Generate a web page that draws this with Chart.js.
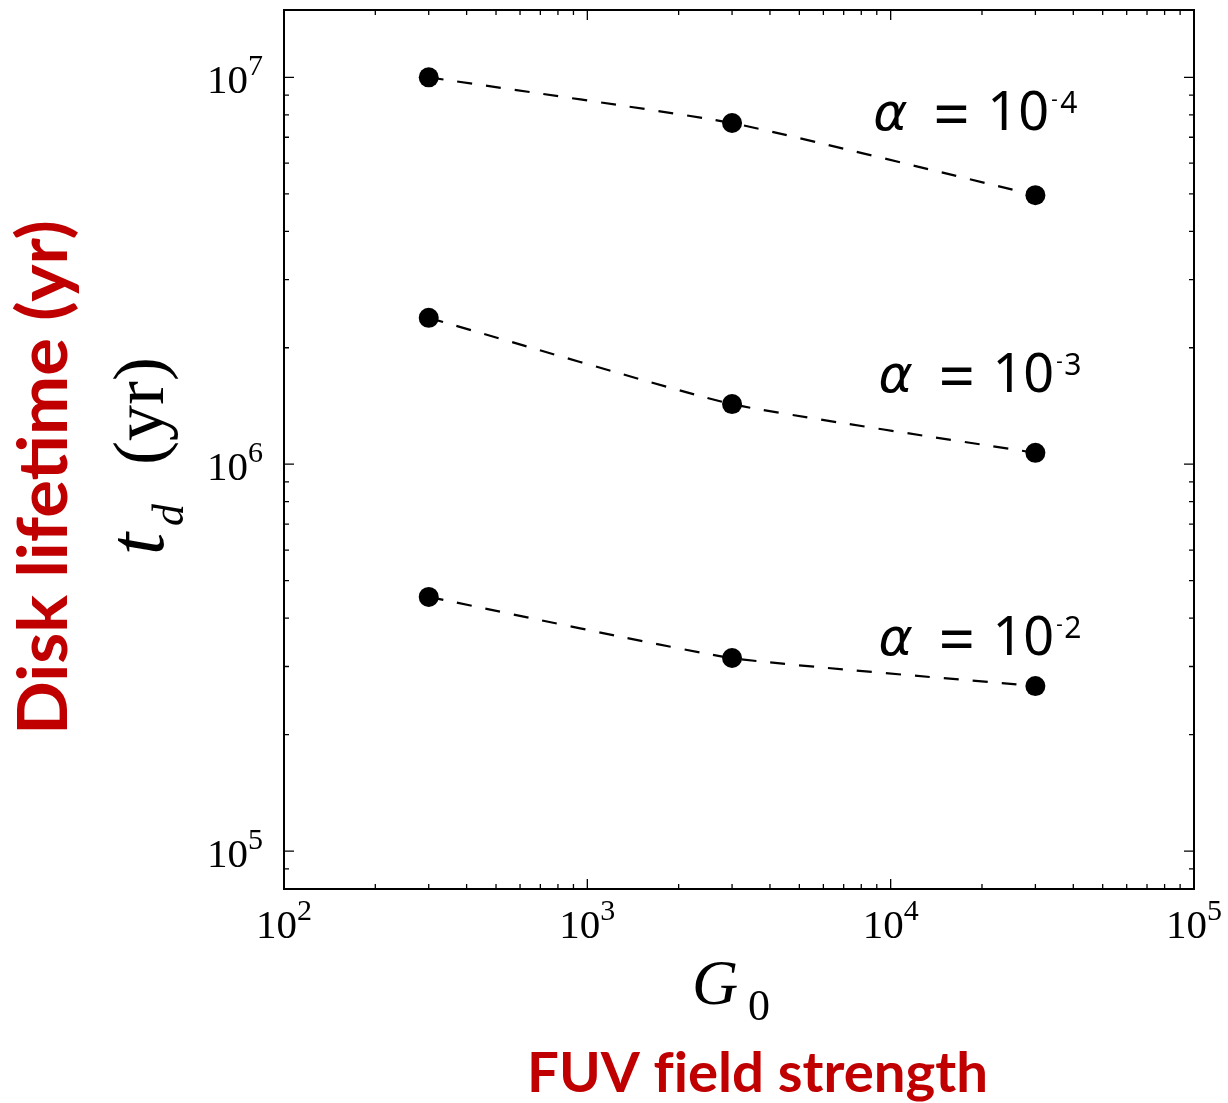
<!DOCTYPE html>
<html>
<head>
<meta charset="utf-8">
<script src="https://cdn.jsdelivr.net/npm/chart.js@4.4.1/dist/chart.umd.min.js"></script>
<style>
  html, body { margin: 0; padding: 0; background: #ffffff; }
  #wrap { width: 1228px; height: 1103px; }
</style>
</head>
<body>
<div id="wrap"><canvas id="c" width="1228" height="1103"></canvas></div>
<script>
// ---- data ----
const G0 = [300, 3000, 30000];
const tdAlpha4 = [1.0e7, 7.62e6, 4.96e6];     // alpha = 1e-4
const tdAlpha3 = [2.39e6, 1.43e6, 1.07e6];    // alpha = 1e-3
const tdAlpha2 = [4.54e5, 3.155e5, 2.67e5];   // alpha = 1e-2
const seriesExp = ["-4", "-3", "-2"];
const xTickExp = [2, 3, 4, 5];
const yTickExp = [5, 6, 7];

// annotation anchors (data coordinates) for the alpha labels
const labelAnchors = [
  { x: 8836, y: 7.29e6 },
  { x: 9179, y: 1.535e6 },
  { x: 9179, y: 3.21e5 }
];

const RED = '#c00000';

function pts(arr) { return G0.map((g, i) => ({ x: g, y: arr[i] })); }

function mkSet(arr) {
  return {
    data: pts(arr),
    showLine: true,
    borderColor: '#000',
    borderWidth: 2.2,
    borderDash: [15, 14],
    tension: 0.15,
    pointRadius: 10,
    pointBackgroundColor: '#000',
    pointBorderWidth: 0,
    pointHoverRadius: 10
  };
}

function fillAtGlyphLeft(ctx, text, left, base) {
  const m = ctx.measureText(text);
  ctx.fillText(text, left + m.actualBoundingBoxLeft, base);
  return left + m.actualBoundingBoxLeft + m.actualBoundingBoxRight; // glyph right
}

const decor = {
  id: 'decor',
  beforeDraw(chart) {
    const ctx = chart.ctx;
    ctx.save();
    ctx.fillStyle = '#fff';
    ctx.fillRect(0, 0, chart.width, chart.height);
    ctx.restore();
  },
  afterDraw(chart) {
    const ctx = chart.ctx;
    const a = chart.chartArea;
    const xs = chart.scales.x, ys = chart.scales.y;
    ctx.save();
    // frame
    ctx.strokeStyle = '#000';
    ctx.lineWidth = 2;
    ctx.strokeRect(a.left, a.top, a.right - a.left, a.bottom - a.top);

    // ticks (inward, all sides)
    ctx.lineWidth = 1.3;
    ctx.beginPath();
    for (let e = 2; e <= 5; e++) {
      for (let m = 1; m <= 9; m++) {
        const v = m * Math.pow(10, e);
        if (v < xs.min * 0.999 || v > xs.max * 1.001) continue;
        const px = xs.getPixelForValue(v);
        const L = (m === 1) ? 10 : 5;
        ctx.moveTo(px, a.bottom); ctx.lineTo(px, a.bottom - L);
        ctx.moveTo(px, a.top); ctx.lineTo(px, a.top + L);
      }
    }
    for (let e = 4; e <= 7; e++) {
      for (let m = 1; m <= 9; m++) {
        const v = m * Math.pow(10, e);
        if (v < ys.min || v > ys.max) continue;
        const py = ys.getPixelForValue(v);
        const L = (m === 1) ? 10 : 5;
        ctx.moveTo(a.left, py); ctx.lineTo(a.left + L, py);
        ctx.moveTo(a.right, py); ctx.lineTo(a.right - L, py);
      }
    }
    ctx.stroke();

    // tick labels
    const mainF = '41px "Liberation Serif"';
    const supF = '30px "Liberation Serif"';
    ctx.fillStyle = '#000';
    ctx.textBaseline = 'alphabetic';
    ctx.textAlign = 'left';
    xTickExp.forEach(e => {
      const px = xs.getPixelForValue(Math.pow(10, e));
      ctx.font = mainF; const w1 = ctx.measureText('10').width;
      ctx.font = supF; const w2 = ctx.measureText(String(e)).width;
      const x0 = px - (w1 + w2) / 2;
      ctx.font = mainF; ctx.fillText('10', x0, a.bottom + 49);
      ctx.font = supF; ctx.fillText(String(e), x0 + w1, a.bottom + 31);
    });
    yTickExp.forEach(e => {
      const py = ys.getPixelForValue(Math.pow(10, e));
      ctx.font = mainF; const w1 = ctx.measureText('10').width;
      ctx.font = supF; const w2 = ctx.measureText(String(e)).width;
      const x0 = a.left - 21 - (w1 + w2);
      ctx.font = mainF; ctx.fillText('10', x0, py + 16);
      ctx.font = supF; ctx.fillText(String(e), x0 + w1, py - 2);
    });

    // alpha labels
    labelAnchors.forEach((p, i) => {
      const x0 = xs.getPixelForValue(p.x);
      const b = ys.getPixelForValue(p.y);
      ctx.font = 'oblique 52px "DejaVu Sans"';
      fillAtGlyphLeft(ctx, 'α', x0, b);
      ctx.font = '64px "Noto Sans"';
      fillAtGlyphLeft(ctx, '=', x0 + 62, b + 7);
      ctx.font = '54px "Noto Sans"';
      const r10 = fillAtGlyphLeft(ctx, '10', x0 + 117, b);
      const s = seriesExp[i];
      ctx.font = '20px "Noto Sans"';
      const rm = fillAtGlyphLeft(ctx, s[0], r10 + 4, b - 24);
      ctx.font = '30px "Noto Sans"';
      fillAtGlyphLeft(ctx, s.slice(1), rm + 3, b - 17);
    });

    // x axis math title G_0
    ctx.font = 'italic 64px "Liberation Serif"';
    fillAtGlyphLeft(ctx, 'G', 695, 1004);
    ctx.font = '44px "Liberation Serif"';
    fillAtGlyphLeft(ctx, '0', 749, 1020);

    // y axis math title t_d (yr)
    ctx.save();
    ctx.translate(163, 552);
    ctx.rotate(-Math.PI / 2);
    ctx.font = 'italic 80px "Liberation Serif"';
    fillAtGlyphLeft(ctx, 't', 0, 0);
    ctx.font = 'italic 44px "Liberation Serif"';
    fillAtGlyphLeft(ctx, 'd', 27, 20);
    ctx.font = '72px "Liberation Serif"';
    fillAtGlyphLeft(ctx, '(yr)', 90, 0);
    ctx.restore();

    // red annotations
    ctx.fillStyle = RED;
    ctx.save();
    ctx.font = 'bold 56px Lato';
    let t1 = 'FUV f\u200Cield strength';
    let w = ctx.measureText(t1).width;
    ctx.translate(527, 1092);
    ctx.scale(461 / w, 1);
    ctx.fillText(t1, 0, 0);
    ctx.restore();

    ctx.save();
    ctx.font = 'bold 69px Lato';
    let t2 = 'Disk lifetime (yr)';
    w = ctx.measureText(t2).width;
    ctx.translate(67, 735);
    ctx.rotate(-Math.PI / 2);
    ctx.scale(515 / w, 1);
    ctx.fillText(t2, 0, 0);
    ctx.restore();

    ctx.restore();
  }
};

new Chart(document.getElementById('c'), {
  type: 'scatter',
  data: { datasets: [mkSet(tdAlpha4), mkSet(tdAlpha3), mkSet(tdAlpha2)] },
  options: {
    responsive: false,
    animation: false,
    events: [],
    layout: { padding: { left: 284, top: 10, right: 34, bottom: 214 } },
    plugins: { legend: { display: false }, tooltip: { enabled: false } },
    scales: {
      x: { type: 'logarithmic', min: 100, max: 1e5, display: false },
      y: { type: 'logarithmic', min: 7.98e4, max: 1.493e7, display: false }
    }
  },
  plugins: [decor]
});
</script>
</body>
</html>
